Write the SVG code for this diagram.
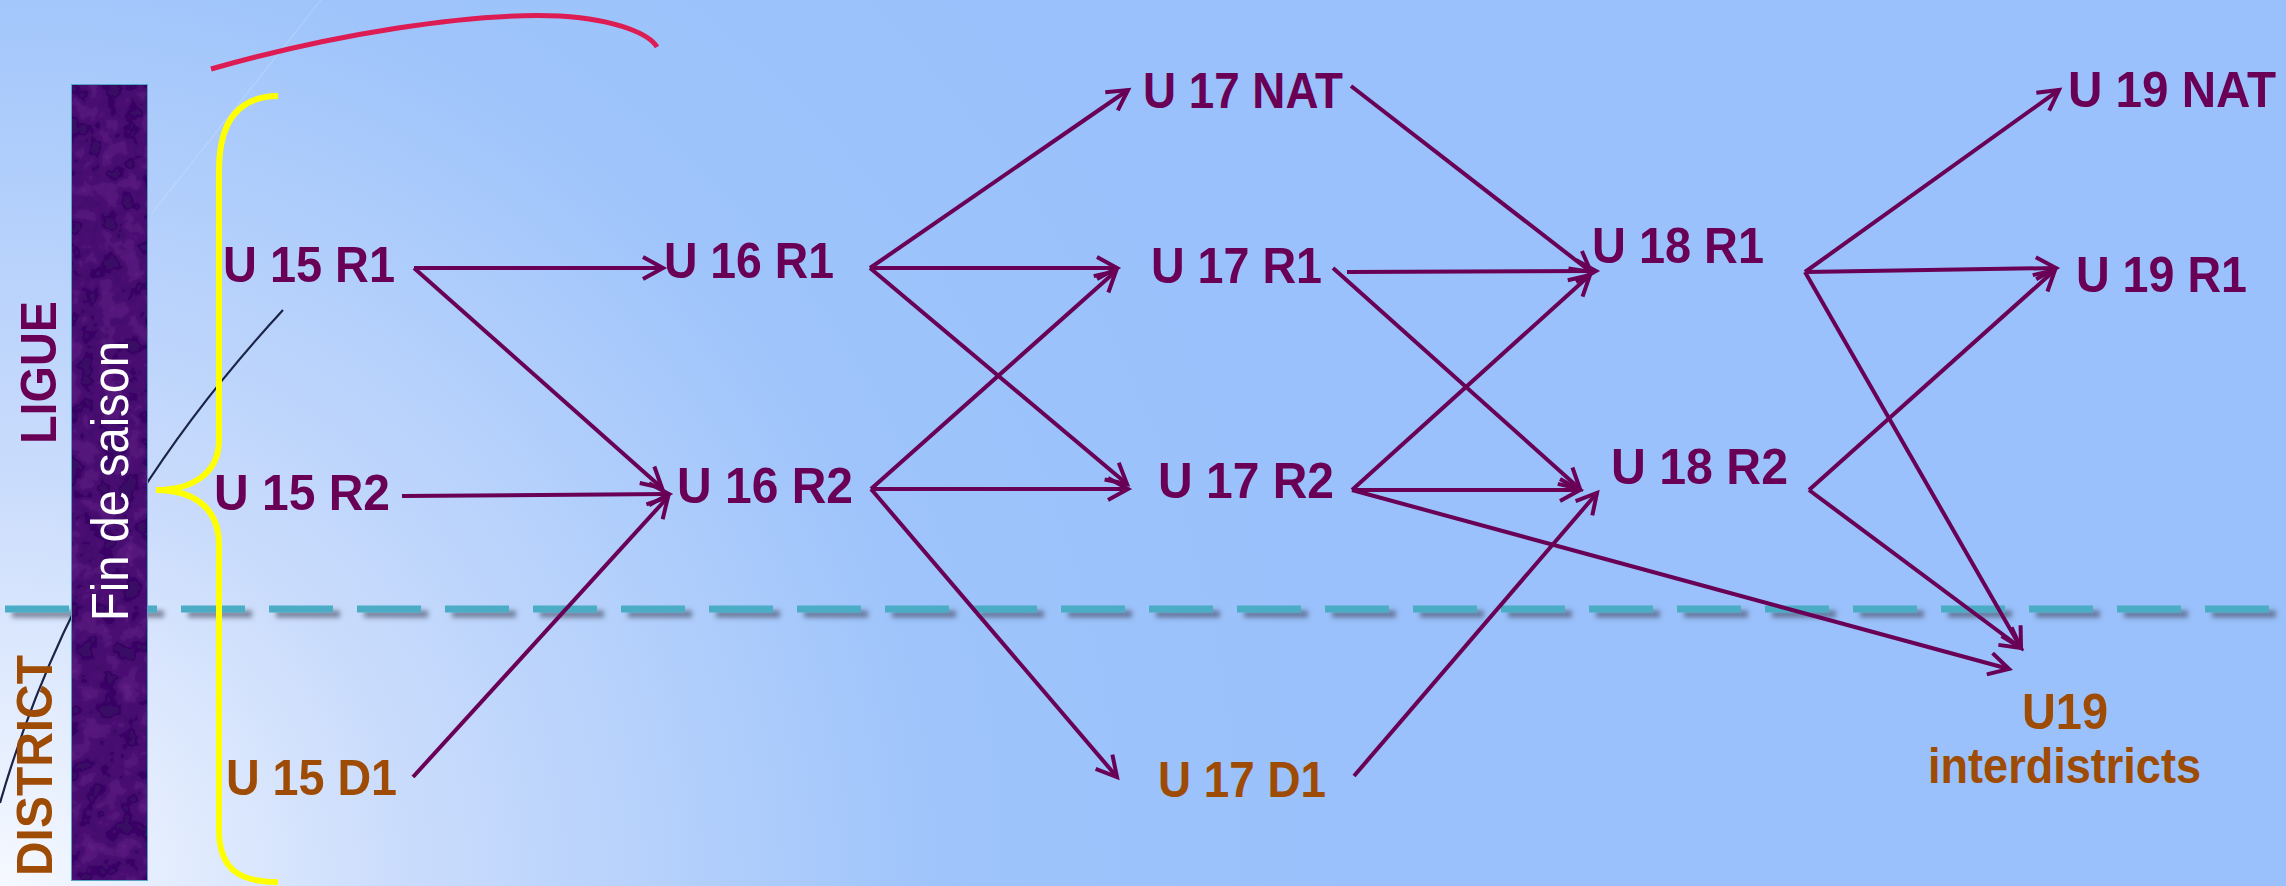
<svg xmlns="http://www.w3.org/2000/svg" width="2286" height="886" viewBox="0 0 2286 886">
<defs>
<radialGradient id="bg" gradientUnits="userSpaceOnUse" cx="0" cy="886" r="1350">
<stop offset="0" stop-color="#f6f9ff"/>
<stop offset="0.3" stop-color="#cadcfc"/>
<stop offset="0.7" stop-color="#9ec4fb"/>
<stop offset="1" stop-color="#9ac1fb"/>
</radialGradient>
<filter id="shadow" filterUnits="userSpaceOnUse" x="0" y="590" width="2286" height="40">
<feDropShadow dx="7" dy="5" stdDeviation="2.5" flood-color="#3a3f55" flood-opacity="0.6"/>
</filter>
<filter id="tex" x="0" y="0" width="100%" height="100%">
<feTurbulence type="fractalNoise" baseFrequency="0.05" numOctaves="3" seed="4" result="n"/>
<feColorMatrix in="n" type="matrix" values="0 0 0 0 0.3  0 0 0 0 0.04  0 0 0 0 0.5  0 0 0 0.5 -0.15" result="c"/>
<feComposite in="c" in2="SourceGraphic" operator="in" result="t"/>
<feMerge><feMergeNode in="SourceGraphic"/><feMergeNode in="t"/></feMerge>
</filter>
<marker id="arr" markerUnits="userSpaceOnUse" markerWidth="40" markerHeight="40" refX="0" refY="0" viewBox="-30 -20 40 40" orient="auto" overflow="visible">
<path d="M-20,-11 L0,0 L-20,11" fill="none" stroke="#690056" stroke-width="4"/>
</marker>
<style>
.lbl{font-family:"Liberation Sans",Arial,sans-serif;font-weight:bold;font-size:50px;fill:#690056}
.dst{fill:#9e4b06}
.con{stroke:#690056;stroke-width:4;fill:none;marker-end:url(#arr)}
</style>
</defs>
<rect x="0" y="0" width="2286" height="886" fill="url(#bg)"/>
<g id="divider">
<line x1="5" y1="609" x2="2286" y2="609" stroke="#4bacc6" stroke-width="7" stroke-dasharray="64 24" filter="url(#shadow)"/>
</g>
<g id="decor">
<path d="M321,0 L152,213" stroke="#ffffff" stroke-opacity="0.18" stroke-width="1.2" fill="none"/>
<path d="M283,310 C 200,400 70,560 0,803" stroke="#1b2346" stroke-width="2.2" fill="none"/>
<path d="M211,69 C 330,35 470,12 560,16 C 620,20 650,35 657,47" stroke="#dc1c52" stroke-width="5" fill="none"/>
</g>
<g id="bar">
<rect x="71" y="84" width="77" height="797" fill="#380a64" stroke="#4bacc6" stroke-width="2" filter="url(#tex)"/>
<text transform="translate(128,621) rotate(-90)" font-family="'Liberation Sans',Arial,sans-serif" font-size="52" fill="#ffffff" textLength="280" lengthAdjust="spacingAndGlyphs">Fin de saison</text>
</g>
<g id="brace">
<path d="M278,96 C 240,96 219,120 219,170 L219,440 C 219,475 190,490 156,490 C 190,490 219,505 219,545 L219,830 C 219,870 240,882 278,882" stroke="#ffff00" stroke-width="6" fill="none"/>
</g>
<g id="ligue"><text class="lbl" transform="translate(56,444) rotate(-90)" textLength="143" lengthAdjust="spacingAndGlyphs">LIGUE</text></g>
<g id="district"><text class="lbl dst" transform="translate(52,876) rotate(-90)" textLength="221" lengthAdjust="spacingAndGlyphs">DISTRICT</text></g>
<g id="connectors">
<line class="con" x1="414" y1="268" x2="663" y2="268"/>
<line class="con" x1="414" y1="268" x2="662" y2="488"/>
<line class="con" x1="402" y1="496" x2="669" y2="494"/>
<line class="con" x1="413" y1="777" x2="668" y2="497"/>
<line class="con" x1="870" y1="268" x2="1128" y2="90"/>
<line class="con" x1="870" y1="268" x2="1117" y2="268"/>
<line class="con" x1="870" y1="268" x2="1127" y2="484"/>
<line class="con" x1="871" y1="489" x2="1116" y2="271"/>
<line class="con" x1="871" y1="489" x2="1128" y2="489"/>
<line class="con" x1="871" y1="489" x2="1117" y2="777"/>
<line class="con" x1="1351" y1="86" x2="1591" y2="272"/>
<line class="con" x1="1347" y1="272" x2="1596" y2="271"/>
<line class="con" x1="1333" y1="268" x2="1580" y2="489"/>
<line class="con" x1="1352" y1="490" x2="1590" y2="275"/>
<line class="con" x1="1352" y1="490" x2="1580" y2="490"/>
<line class="con" x1="1352" y1="490" x2="2009" y2="669" stroke-width="5.5"/>
<line class="con" x1="1354" y1="776" x2="1597" y2="493"/>
<line class="con" x1="1805" y1="272" x2="2059" y2="90"/>
<line class="con" x1="1805" y1="272" x2="2056" y2="268"/>
<line class="con" x1="1805" y1="272" x2="2021" y2="648"/>
<line class="con" x1="1809" y1="490" x2="2055" y2="270"/>
<line class="con" x1="1809" y1="490" x2="2021" y2="648"/>
</g>
<g id="u15r1"><text class="lbl" x="223" y="282" textLength="172" lengthAdjust="spacingAndGlyphs">U 15 R1</text></g>
<g id="u15r2"><text class="lbl" x="214" y="510" textLength="176" lengthAdjust="spacingAndGlyphs">U 15 R2</text></g>
<g id="u15d1"><text class="lbl dst" x="226" y="795" textLength="171" lengthAdjust="spacingAndGlyphs">U 15 D1</text></g>
<g id="u16r1"><text class="lbl" x="664" y="278" textLength="170" lengthAdjust="spacingAndGlyphs">U 16 R1</text></g>
<g id="u16r2"><text class="lbl" x="677" y="503" textLength="176" lengthAdjust="spacingAndGlyphs">U 16 R2</text></g>
<g id="u17nat"><text class="lbl" x="1143" y="108" textLength="200" lengthAdjust="spacingAndGlyphs">U 17 NAT</text></g>
<g id="u17r1"><text class="lbl" x="1151" y="283" textLength="171" lengthAdjust="spacingAndGlyphs">U 17 R1</text></g>
<g id="u17r2"><text class="lbl" x="1158" y="498" textLength="176" lengthAdjust="spacingAndGlyphs">U 17 R2</text></g>
<g id="u17d1"><text class="lbl dst" x="1158" y="797" textLength="168" lengthAdjust="spacingAndGlyphs">U 17 D1</text></g>
<g id="u18r1"><text class="lbl" x="1592" y="263" textLength="172" lengthAdjust="spacingAndGlyphs">U 18 R1</text></g>
<g id="u18r2"><text class="lbl" x="1611" y="484" textLength="177" lengthAdjust="spacingAndGlyphs">U 18 R2</text></g>
<g id="u19nat"><text class="lbl" x="2068" y="107" textLength="208" lengthAdjust="spacingAndGlyphs">U 19 NAT</text></g>
<g id="u19r1"><text class="lbl" x="2076" y="292" textLength="171" lengthAdjust="spacingAndGlyphs">U 19 R1</text></g>
<g id="u19inter"><text class="lbl dst" x="2022" y="729" font-size="46" textLength="86" lengthAdjust="spacingAndGlyphs">U19</text><text class="lbl dst" x="1928" y="783" font-size="46" textLength="273" lengthAdjust="spacingAndGlyphs">interdistricts</text></g>
</svg>
